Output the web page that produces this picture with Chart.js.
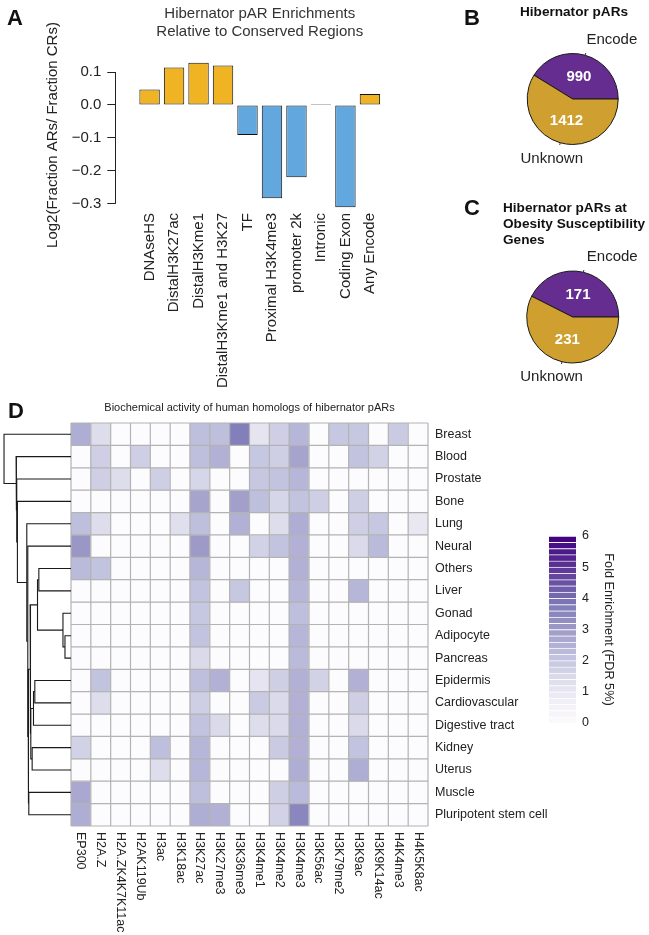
<!DOCTYPE html>
<html>
<head>
<meta charset="utf-8">
<script src="https://cdn.jsdelivr.net/npm/chart.js@4.4.1/dist/chart.umd.min.js"></script>
<style>
  body { margin: 0; background: #fff; }
  #fig { position: relative; width: 649px; height: 935px; overflow: hidden;
         font-family: 'Liberation Sans', Arial, Helvetica, sans-serif; color: #111; }
  #fig canvas { position: absolute; }
  .txt { position: absolute; white-space: nowrap; line-height: 1; }
  .letter { font-weight: bold; font-size: 22px; }
  .ptitle { font-weight: bold; font-size: 13.6px; line-height: 16px; }
</style>
</head>
<body>
<div id="fig">
  <canvas id="barChart" width="420" height="400" style="left:0;top:0"></canvas>
  <canvas id="pieB" width="229" height="190" style="left:420px;top:0"></canvas>
  <canvas id="pieC" width="229" height="210" style="left:420px;top:190px"></canvas>
  <canvas id="heatChart" width="649" height="535" style="left:0;top:400px"></canvas>
  <canvas id="dendro" width="71" height="403" style="left:0;top:423px"></canvas>
  <canvas id="scaleBar" width="80" height="220" style="left:540px;top:520px"></canvas>

  <div class="txt letter" style="left:7px;top:7px">A</div>
  <div class="txt letter" style="left:464px;top:7px">B</div>
  <div class="txt letter" style="left:464px;top:197px">C</div>
  <div class="txt letter" style="left:8px;top:400px">D</div>
  <div class="txt ptitle" style="left:520px;top:4px">Hibernator pARs</div>
  <div class="txt ptitle" style="left:503px;top:200px">Hibernator pARs at<br>Obesity Susceptibility<br>Genes</div>
</div>

<script>
Chart.defaults.font.family = "'Liberation Sans', Arial, Helvetica, sans-serif";
Chart.defaults.color = '#222';

// Panel A data
const enrichLabels = ['DNAseHS', 'DistalH3K27ac', 'DistalH3Kme1', 'DistalH3Kme1 and H3K27', 'TF',
  'Proximal H3K4me3', 'promoter 2k', 'Intronic', 'Coding Exon', 'Any Encode'];
const enrichValues = [0.047, 0.114, 0.128, 0.120, -0.091, -0.283, -0.219, 0.003, -0.310, 0.033];
const enrichTicks = [-0.3, -0.2, -0.1, 0.0, 0.1];

// Panels B and C data
const pieLabels = ['Encode', 'Unknown'];
const pieAll = [990, 1412];
const pieObesity = [171, 231];

// Panel D data
const tissues = ['Breast', 'Blood', 'Prostate', 'Bone', 'Lung', 'Neural', 'Others', 'Liver', 'Gonad',
  'Adipocyte', 'Pancreas', 'Epidermis', 'Cardiovascular', 'Digestive tract', 'Kidney', 'Uterus',
  'Muscle', 'Pluripotent stem cell'];
const marks = ['EP300', 'H2A.Z', 'H2A.ZK4K7K11ac', 'H2AK119Ub', 'H3ac', 'H3K18ac', 'H3K27ac', 'H3K27me3',
  'H3K36me3', 'H3K4me1', 'H3K4me2', 'H3K4me3', 'H3K56ac', 'H3K79me2', 'H3K9ac', 'H3K9K14ac',
  'H4K4me3', 'H4K5K8ac'];
const foldEnrich = [
  [2.6, 1.4, 0, 0, 0, 0, 2.2, 2.2, 3.7, 1.1, 1.8, 2.4, 0, 2.0, 2.0, 0, 1.9, 0],   // Breast
  [0, 1.8, 0, 1.8, 0, 0, 2.2, 2.5, 0, 2.0, 1.8, 2.8, 0, 0, 2.1, 1.7, 0, 0],       // Blood
  [0, 1.8, 1.4, 0, 1.8, 0, 1.6, 0, 0, 2.0, 2.1, 2.4, 0, 0, 0, 0, 0, 0],           // Prostate
  [0, 0, 0, 0, 0, 0, 2.8, 0, 2.9, 2.2, 1.6, 2.1, 1.8, 0, 1.8, 0, 0, 0],           // Bone
  [2.2, 1.4, 0, 0, 0, 1.3, 2.2, 0, 2.5, 0, 1.4, 2.6, 0, 0, 1.8, 2.0, 0, 1.0],     // Lung
  [3.1, 0, 0, 0, 0, 0, 3.0, 0, 0, 1.7, 2.1, 2.5, 0, 0, 1.5, 2.3, 0, 0],           // Neural
  [2.3, 2.1, 0, 0, 0, 0, 2.4, 0, 0, 0, 0, 2.5, 0, 0, 0, 0, 0, 0],                 // Others
  [0, 0, 0, 0, 0, 0, 2.1, 0, 2.0, 0, 0, 2.4, 0, 0, 2.4, 0, 0, 0],                 // Liver
  [0, 0, 0, 0, 0, 0, 2.0, 0, 0, 0, 0, 2.2, 0, 0, 0, 0, 0, 0],                     // Gonad
  [0, 0, 0, 0, 0, 0, 2.1, 0, 0, 0, 0, 2.4, 0, 0, 0, 0, 0, 0],                     // Adipocyte
  [0, 0, 0, 0, 0, 0, 1.5, 0, 0, 0, 0, 2.3, 0, 0, 0, 0, 0, 0],                     // Pancreas
  [0, 2.1, 0, 0, 0, 0, 2.2, 2.5, 0, 1.1, 1.8, 2.5, 1.7, 0, 2.5, 0, 0, 0],         // Epidermis
  [0, 1.4, 0, 0, 0, 0, 1.8, 0, 0, 1.9, 1.5, 2.5, 0, 0, 1.8, 0, 0, 0],             // Cardiovascular
  [0, 0, 0, 0, 0, 0, 2.1, 1.5, 0, 1.4, 1.5, 2.5, 0, 0, 1.5, 0, 0, 0],             // Digestive tract
  [1.7, 0, 0, 0, 2.2, 0, 2.4, 0, 0, 0, 1.9, 2.5, 0, 0, 2.1, 0, 0, 0],             // Kidney
  [0, 0, 0, 0, 1.4, 0, 2.4, 0, 0, 0, 0, 2.6, 0, 0, 2.6, 0, 0, 0],                 // Uterus
  [2.7, 0, 0, 0, 0, 0, 2.2, 0, 0, 0, 1.8, 2.3, 0, 0, 0, 0, 0, 0],                 // Muscle
  [2.6, 0, 0, 0, 0, 0, 2.6, 2.5, 0, 0, 1.7, 3.5, 0, 0, 0, 0, 0, 0]                // Pluripotent stem cell
];
// row dendrogram, hclust style: negative = row number, positive = earlier merge
const merges = [[-10, -11], [-9, 1], [-7, -8], [3, 2], [-12, -13], [5, -14], [-15, -16], [6, 7],
  [4, 8], [-17, -18], [9, 10], [-6, 11], [-5, 12], [-4, 13], [-3, 14], [-2, 15], [-1, 16]];
const mergeHeights = [0.09, 0.12, 0.48, 0.50, 0.54, 0.56, 0.58, 0.60, 0.61, 0.63, 0.64, 0.645,
  0.66, 0.80, 0.81, 0.82, 1.0];
const scaleTicks = [0, 1, 2, 3, 4, 5, 6];

// colours
const purples = ['#fcfbfd', '#efedf5', '#dadaeb', '#bcbddc', '#9e9ac8', '#807dba', '#6a51a3', '#54278f', '#3f007d'];
function hexRgb(h) {
  return [1, 3, 5].map(k => parseInt(h.slice(k, k + 2), 16));
}
function purple(v) {
  const t = Math.max(0, Math.min(1, v / 6)) * (purples.length - 1);
  const i = Math.min(Math.floor(t), purples.length - 2);
  const f = t - i;
  const a = hexRgb(purples[i]), b = hexRgb(purples[i + 1]);
  const c = a.map((x, k) => Math.round(x + (b[k] - x) * f));
  return 'rgb(' + c.join(',') + ')';
}

// ---------- Panel A ----------
// R barplot layout: width 1, space 0.2, axes extended by 4%
const n = enrichValues.length;
const barCentre = i => 0.7 + 1.2 * i;
const xPad = (1.2 * n - 0.2) * 0.04;
const yLo = Math.min(0, ...enrichValues), yHi = Math.max(0, ...enrichValues);
const yPad = (yHi - yLo) * 0.04;

const rAxisLine = {
  id: 'rAxisLine',
  afterDraw(chart) {
    const {ctx, chartArea: a, scales: {y}} = chart;
    const x = Math.round(a.left) + 0.5;
    ctx.save();
    ctx.strokeStyle = '#222';
    ctx.lineWidth = 1;
    ctx.beginPath();
    ctx.moveTo(x, y.getPixelForValue(enrichTicks[0]));
    ctx.lineTo(x, y.getPixelForValue(enrichTicks[enrichTicks.length - 1]));
    ctx.stroke();
    ctx.restore();
  }
};

var bar_area = document.getElementById('barChart');
var myBarChart = new Chart(bar_area, {
  type: 'bar',
  data: {
    datasets: [{
      data: enrichValues.map((v, i) => ({x: barCentre(i), y: v})),
      backgroundColor: enrichValues.map(v => v >= 0 ? '#F0B323' : '#62A8DE'),
      borderColor: '#111',
      borderWidth: 1,
      borderSkipped: false,
      barPercentage: 1 / 1.2,
      categoryPercentage: 1
    }]
  },
  options: {
    responsive: false,
    animation: false,
    layout: {padding: {left: 44, right: 15.8, top: 1, bottom: 0}},
    plugins: {
      legend: {display: false},
      tooltip: {enabled: false},
      title: {
        display: true,
        fullSize: false,
        text: ['Hibernator pAR Enrichments', 'Relative to Conserved Regions'],
        font: {size: 15, weight: 'normal', lineHeight: 1.2},
        color: '#333',
        padding: {top: 4, bottom: 16}
      }
    },
    scales: {
      x: {
        type: 'linear',
        min: 0.2 - xPad,
        max: 1.2 * n + xPad,
        afterBuildTicks: s => { s.ticks = enrichLabels.map((_, i) => ({value: barCentre(i)})); },
        ticks: {
          callback: (v, i) => enrichLabels[i],
          autoSkip: false,
          minRotation: 90,
          maxRotation: 90,
          font: {size: 15},
          color: '#222',
          padding: 0
        },
        grid: {display: false, drawTicks: false},
        border: {display: false},
        afterFit: s => { s.height = 187; }
      },
      y: {
        min: yLo - yPad,
        max: yHi + yPad,
        afterBuildTicks: s => { s.ticks = enrichTicks.map(v => ({value: v})); },
        ticks: {
          callback: v => (Math.abs(v) < 1e-9 ? 0 : v).toFixed(1).replace('-', '\u2212'),
          font: {size: 15},
          color: '#222',
          padding: 6
        },
        grid: {drawOnChartArea: false, drawTicks: true, tickLength: 8, color: '#222'},
        border: {display: false},
        title: {
          display: true,
          text: 'Log2(Fraction ARs/ Fraction CRs)',
          font: {size: 15},
          color: '#222',
          padding: 0
        },
        afterFit: s => { s.width = 71.3; }
      }
    }
  },
  plugins: [rAxisLine]
});

// ---------- Panels B, C ----------
const pieText = {
  id: 'pieText',
  afterDatasetsDraw(chart) {
    const {ctx} = chart;
    const offsets = [[0.86, -1.3], [-0.46, 1.31]];
    const meta = chart.getDatasetMeta(0);
    const values = chart.data.datasets[0].data;
    ctx.save();
    meta.data.forEach((arc, i) => {
      const {x, y, startAngle, endAngle, outerRadius: r} = arc.getProps(['x', 'y', 'startAngle', 'endAngle', 'outerRadius'], true);
      const mid = (startAngle + endAngle) / 2;
      const c = arc.tooltipPosition(true);
      ctx.fillStyle = '#fff';
      ctx.font = "bold 15px 'Liberation Sans', Arial, sans-serif";
      ctx.textAlign = 'center';
      ctx.textBaseline = 'middle';
      ctx.fillText(String(values[i]), c.x, c.y);
      ctx.strokeStyle = '#333';
      ctx.lineWidth = 1;
      ctx.beginPath();
      ctx.moveTo(x + r * Math.cos(mid), y + r * Math.sin(mid));
      ctx.lineTo(x + 1.05 * r * Math.cos(mid), y + 1.05 * r * Math.sin(mid));
      ctx.stroke();
      ctx.fillStyle = '#222';
      ctx.font = "15px 'Liberation Sans', Arial, sans-serif";
      ctx.fillText(chart.data.labels[i], x + offsets[i][0] * r, y + offsets[i][1] * r);
    });
    ctx.restore();
  }
};

function makePie(id, values, pad) {
  const total = values.reduce((a, b) => a + b, 0);
  return new Chart(document.getElementById(id), {
    type: 'pie',
    data: {
      labels: pieLabels,
      datasets: [{
        data: values,
        backgroundColor: ['#652D90', '#CF9F2F'],
        borderColor: '#1a1a1a',
        borderWidth: 1
      }]
    },
    options: {
      responsive: false,
      animation: false,
      // R pie: first slice starts at 3 o'clock, counter-clockwise
      rotation: 90 - 360 * values[0] / total,
      layout: {padding: pad},
      plugins: {legend: {display: false}, tooltip: {enabled: false}}
    },
    plugins: [pieText]
  });
}
var myPieB = makePie('pieB', pieAll, {left: 106.7, right: 30.3, top: 53, bottom: 45});
var myPieC = makePie('pieC', pieObesity, {left: 106.2, right: 29.8, top: 80.5, bottom: 36.5});

// ---------- Panel D heatmap ----------
const heatGrid = {
  id: 'heatGrid',
  afterDatasetsDraw(chart) {
    const {ctx, chartArea: a, scales: {x, y}} = chart;
    ctx.save();
    ctx.strokeStyle = '#b3b3b3';
    ctx.lineWidth = 1.2;
    ctx.beginPath();
    for (let j = 0; j <= marks.length; j++) {
      const px = x.getPixelForValue(j - 0.5);
      ctx.moveTo(px, a.top);
      ctx.lineTo(px, a.bottom);
    }
    for (let i = 0; i <= tissues.length; i++) {
      const py = y.getPixelForValue(i);
      ctx.moveTo(a.left, py);
      ctx.lineTo(a.right, py);
    }
    ctx.stroke();
    ctx.restore();
  }
};

const heatText = {
  id: 'heatText',
  afterDraw(chart) {
    const {ctx, chartArea: a, scales: {x, y}} = chart;
    ctx.save();
    ctx.fillStyle = '#222';
    ctx.font = "12.5px 'Liberation Sans', Arial, sans-serif";
    ctx.textAlign = 'left';
    ctx.textBaseline = 'middle';
    tissues.forEach((t, i) => ctx.fillText(t, a.right + 7, y.getPixelForValue(i + 0.5)));
    marks.forEach((m, j) => {
      ctx.save();
      ctx.translate(x.getPixelForValue(j), a.bottom + 6);
      ctx.rotate(Math.PI / 2);
      ctx.fillText(m, 0, 0);
      ctx.restore();
    });
    ctx.font = "11px 'Liberation Sans', Arial, sans-serif";
    ctx.textAlign = 'center';
    ctx.fillText('Biochemical activity of human homologs of hibernator pARs', (a.left + a.right) / 2, a.top - 15);
    ctx.restore();
  }
};

var heat_area = document.getElementById('heatChart');
var myHeatChart = new Chart(heat_area, {
  type: 'bar',
  data: {
    labels: marks,
    datasets: tissues.map((t, i) => ({
      label: t,
      data: marks.map(() => [i, i + 1]),
      backgroundColor: foldEnrich[i].map(purple),
      borderWidth: 0,
      grouped: false,
      barPercentage: 1,
      categoryPercentage: 1
    }))
  },
  options: {
    responsive: false,
    animation: false,
    layout: {padding: {left: 71, right: 221, top: 23, bottom: 109}},
    plugins: {legend: {display: false}, tooltip: {enabled: false}},
    scales: {
      x: {
        display: false
      },
      y: {
        type: 'linear',
        min: 0,
        max: tissues.length,
        reverse: true,
        display: false
      }
    }
  },
  plugins: [heatGrid, heatText]
});

// ---------- dendrogram ----------
const nodes = [];
const place = c => c < 0 ? {h: 0, y: -c - 0.5} : nodes[c - 1];
const dendroSets = merges.map((m, k) => {
  const a = place(m[0]), b = place(m[1]);
  const h = mergeHeights[k];
  nodes.push({h: h, y: (a.y + b.y) / 2});
  return {
    data: [{x: a.h, y: a.y}, {x: h, y: a.y}, {x: h, y: b.y}, {x: b.h, y: b.y}],
    showLine: true,
    borderColor: '#1a1a1a',
    borderWidth: 1.1,
    pointRadius: 0,
    tension: 0,
    clip: false
  };
});

var dendro_area = document.getElementById('dendro');
var myDendro = new Chart(dendro_area, {
  type: 'scatter',
  data: {datasets: dendroSets},
  options: {
    responsive: false,
    animation: false,
    layout: {padding: 0},
    plugins: {legend: {display: false}, tooltip: {enabled: false}},
    scales: {
      x: {type: 'linear', min: 0, max: 1.06, reverse: true, display: false},
      y: {type: 'linear', min: 0, max: tissues.length, reverse: true, display: false}
    }
  }
});

// ---------- colour key ----------
const bandStep = 0.2;
const bandStarts = [];
for (let v = 0; v < 6 - 1e-9; v += bandStep) bandStarts.push(v);

var key_area = document.getElementById('scaleBar');
var myKey = new Chart(key_area, {
  type: 'bar',
  data: {
    labels: [''],
    datasets: bandStarts.map(v => ({
      data: [[v, v + bandStep]],
      backgroundColor: purple(v + bandStep / 2),
      borderColor: 'rgba(255,255,255,0.6)',
      borderWidth: {top: 1, bottom: 0, left: 0, right: 0},
      borderSkipped: false,
      grouped: false,
      barPercentage: 1,
      categoryPercentage: 1
    }))
  },
  options: {
    responsive: false,
    animation: false,
    layout: {padding: {left: 9, right: 0, top: 16, bottom: 17}},
    plugins: {legend: {display: false}, tooltip: {enabled: false}},
    scales: {
      x: {display: false},
      y: {
        type: 'linear',
        position: 'right',
        min: 0,
        max: 6,
        afterBuildTicks: s => { s.ticks = scaleTicks.map(v => ({value: v})); },
        ticks: {font: {size: 12.5}, color: '#222', padding: 6},
        grid: {display: false, drawTicks: false},
        border: {display: false},
        title: {
          display: true,
          text: 'Fold Enrichment (FDR 5%)',
          font: {size: 12.7},
          color: '#222',
          padding: {top: 4, bottom: 0}
        },
        afterFit: s => { s.width = 44; }
      }
    }
  }
});
</script>
</body>
</html>
